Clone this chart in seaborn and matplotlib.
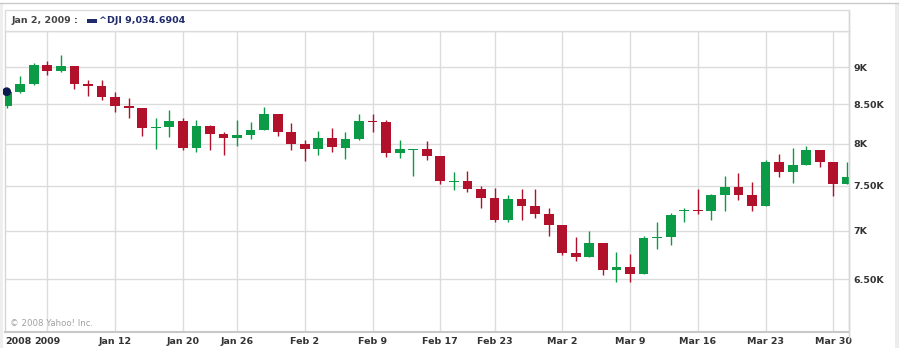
import matplotlib
matplotlib.use("Agg")
import matplotlib.pyplot as plt
import seaborn as sns
import pandas as pd
import numpy as np
from matplotlib.patches import Rectangle
from matplotlib.lines import Line2D

# ---- data (Dow Jones daily candles) ----
dates = ["2008-12-30", "2008-12-31", "2009-01-02", "2009-01-05", "2009-01-06", "2009-01-07",
         "2009-01-08", "2009-01-09", "2009-01-12", "2009-01-13", "2009-01-14", "2009-01-15",
         "2009-01-16", "2009-01-20", "2009-01-21", "2009-01-22", "2009-01-23", "2009-01-26",
         "2009-01-27", "2009-01-28", "2009-01-29", "2009-01-30", "2009-02-02", "2009-02-03",
         "2009-02-04", "2009-02-05", "2009-02-06", "2009-02-09", "2009-02-10", "2009-02-11",
         "2009-02-12", "2009-02-13", "2009-02-17", "2009-02-18", "2009-02-19", "2009-02-20",
         "2009-02-23", "2009-02-24", "2009-02-25", "2009-02-26", "2009-02-27", "2009-03-02",
         "2009-03-03", "2009-03-04", "2009-03-05", "2009-03-06", "2009-03-09", "2009-03-10",
         "2009-03-11", "2009-03-12", "2009-03-13", "2009-03-16", "2009-03-17", "2009-03-18",
         "2009-03-19", "2009-03-20", "2009-03-23", "2009-03-24", "2009-03-25", "2009-03-26",
         "2009-03-27", "2009-03-30", "2009-03-31"]
opens = [8483, 8668, 8772, 9034, 8954, 9015, 8769, 8742, 8599, 8474, 8448, 8200,
         8212, 8281, 7949, 8228, 8122, 8077, 8116, 8174, 8375, 8149, 8000, 7936,
         8078, 7956, 8063, 8281, 8270, 7888, 7922, 7933, 7850, 7550, 7556, 7466,
         7366, 7115, 7351, 7271, 7182, 7063, 6763, 6726, 6876, 6594, 6627, 6547,
         6926, 6930, 7218, 7230, 7217, 7396, 7487, 7401, 7278, 7776, 7660, 7750,
         7925, 7776, 7522]
highs = [8680, 8876, 9065, 9088, 9175, 9015, 8820, 8820, 8670, 8590, 8448, 8330,
         8430, 8330, 8300, 8240, 8150, 8300, 8280, 8463, 8375, 8260, 8050, 8160,
         8200, 8150, 8370, 8380, 8300, 8050, 7940, 8030, 7850, 7660, 7670, 7500,
         7480, 7400, 7460, 7460, 7250, 7063, 6930, 7000, 6876, 6780, 6760, 6950,
         7100, 7200, 7250, 7470, 7410, 7620, 7650, 7550, 7810, 7880, 7950, 7975,
         7925, 7776, 7780]
lows = [8455, 8650, 8760, 8892, 8940, 8700, 8613, 8557, 8400, 8330, 8100, 7940,
        8080, 7930, 7900, 7930, 7860, 7970, 8060, 8170, 8100, 7930, 7798, 7870,
        7900, 7820, 8050, 8150, 7840, 7830, 7620, 7810, 7520, 7450, 7430, 7250,
        7100, 7100, 7120, 7140, 6950, 6745, 6680, 6726, 6540, 6470, 6470, 6547,
        6810, 6850, 7100, 7180, 7120, 7220, 7340, 7220, 7278, 7600, 7530, 7750,
        7720, 7390, 7522]
closes = [8668, 8776, 9035, 8953, 9015, 8770, 8742, 8599, 8474, 8449, 8200, 8212,
          8281, 7949, 8228, 8123, 8078, 8116, 8175, 8375, 8149, 8001, 7937, 8078,
          7957, 8063, 8281, 8271, 7889, 7940, 7935, 7850, 7553, 7556, 7466, 7366,
          7115, 7351, 7271, 7182, 7063, 6763, 6726, 6876, 6594, 6627, 6547, 6926,
          6930, 7170, 7224, 7217, 7396, 7487, 7401, 7278, 7776, 7660, 7750, 7925,
          7776, 7522, 7609]

tick_dates = ["2009-01-05", "2009-01-12", "2009-01-20", "2009-01-26", "2009-02-02",
              "2009-02-09", "2009-02-17", "2009-02-23", "2009-03-02", "2009-03-09",
              "2009-03-16", "2009-03-23", "2009-03-30"]
tick_labels = ["2009", "Jan 12", "Jan 20", "Jan 26", "Feb 2", "Feb 9", "Feb 17",
               "Feb 23", "Mar 2", "Mar 9", "Mar 16", "Mar 23", "Mar 30"]
first_label = "2008"
y_ticks = [6500, 7000, 7500, 8000, 8500, 9000]
y_tick_labels = ["6.50K", "7K", "7.50K", "8K", "8.50K", "9K"]

header_date = "Jan 2, 2009 :"
header_series = "^DJI 9,034.6904"

# ---- style ----
sns.set_style("white")
plt.rcParams['font.family'] = ['DejaVu Sans']

GREEN = "#0b9a45"
RED = "#b2112c"
GRID = "#dcdcdc"
TXT = "#333333"
NAVY = "#1f2b6b"

df = pd.DataFrame({"date": dates, "open": opens, "high": highs, "low": lows, "close": closes})
df["i"] = np.arange(len(df))
df["up"] = df["close"] >= df["open"]
idx_of = {d: i for i, d in enumerate(dates)}

W, H = 899, 348
fig = plt.figure(figsize=(W / 100, H / 100), dpi=100)
ax = fig.add_axes([5 / W, 16 / H, 844 / W, 301 / H])
ax.set_yscale("log")
ax.set_ylim(5993, 9515)
ax.set_xlim(-0.125, 62.16)

# grid
tick_pos = [idx_of[d] for d in tick_dates]
for p in tick_pos:
    ax.axvline(p, color=GRID, lw=1.0, zorder=0)
for yv in y_ticks:
    ax.axhline(yv, color=GRID, lw=1.0, zorder=0)

# candles
for up, sub in df.groupby("up"):
    col = GREEN if up else RED
    ax.vlines(sub["i"], sub["low"], sub["high"], color=col, lw=1.0, zorder=2)
    lo = np.minimum(sub["open"], sub["close"])
    hi = np.maximum(sub["open"], sub["close"])
    ax.bar(sub["i"], hi - lo, bottom=lo, width=0.72, color=col, lw=0, zorder=3)

# hover dot on the first close
sns.scatterplot(x=df["i"].iloc[:1], y=df["close"].iloc[:1], ax=ax, s=40,
                color="#0d1a4f", edgecolor="none", zorder=5, clip_on=False, legend=False)
ax.set_xlabel("")
ax.set_ylabel("")

# axes
ax.set_xticks(tick_pos)
ax.set_xticklabels(tick_labels, fontsize=6.8, fontweight="bold", color=TXT)
ax.set_yticks(y_ticks)
ax.set_yticklabels(y_tick_labels, fontsize=6.8, fontweight="bold", color=TXT)
ax.yaxis.set_minor_locator(matplotlib.ticker.NullLocator())
ax.yaxis.tick_right()
ax.tick_params(axis="both", length=0)
ax.tick_params(axis="x", pad=3.5)
ax.tick_params(axis="y", pad=3.5)
for s in ["left", "top", "right"]:
    ax.spines[s].set_color("#d6d6d6")
    ax.spines[s].set_linewidth(1.0)
ax.spines["bottom"].set_color("#c8c8c8")
ax.spines["bottom"].set_linewidth(1.5)

ax.annotate(first_label, xy=(0.0, 0.0), xycoords="axes fraction", xytext=(0, -3.5),
            textcoords="offset points", ha="left", va="top",
            fontsize=6.8, fontweight="bold", color=TXT, annotation_clip=False)

# copyright
fig.text(10 / W, 1 - 323 / H, "\u00a9 2008 Yahoo! Inc.", fontsize=6.2, color="#a0a0a0",
         ha="left", va="center")

# header bar
fig.patches.append(Rectangle((5 / W, 1 - 31 / H), 844 / W, 21 / H, transform=fig.transFigure,
                             facecolor="white", edgecolor="#dcdcdc", lw=1.0, zorder=1))
fig.text(12 / W, 1 - 20.5 / H, header_date, fontsize=6.8, fontweight="bold", color="#444444",
         ha="left", va="center")
fig.patches.append(Rectangle((87 / W, 1 - 23 / H), 10 / W, 4 / H, transform=fig.transFigure,
                             facecolor=NAVY, edgecolor="none", zorder=2))
fig.text(99 / W, 1 - 20.5 / H, header_series, fontsize=6.8, fontweight="bold", color=NAVY,
         ha="left", va="center")

# outer frame bits
fig.lines.append(Line2D([0, 1], [1 - 3 / H, 1 - 3 / H], transform=fig.transFigure,
                        color="#c8c8c8", lw=1.0))
fig.patches.append(Rectangle((895 / W, 0), 4 / W, 1 - 3 / H, transform=fig.transFigure,
                             facecolor="#ececec", edgecolor="none"))
fig.patches.append(Rectangle((0, 0), 3 / W, 1 - 3 / H, transform=fig.transFigure,
                             facecolor="#eeeeee", edgecolor="none"))
fig.lines.append(Line2D([849 / W, 849 / W], [1 - 340 / H, 1 - 10 / H], transform=fig.transFigure,
                        color="#d6d6d6", lw=1.0))

fig.savefig("out.png", dpi=100)
